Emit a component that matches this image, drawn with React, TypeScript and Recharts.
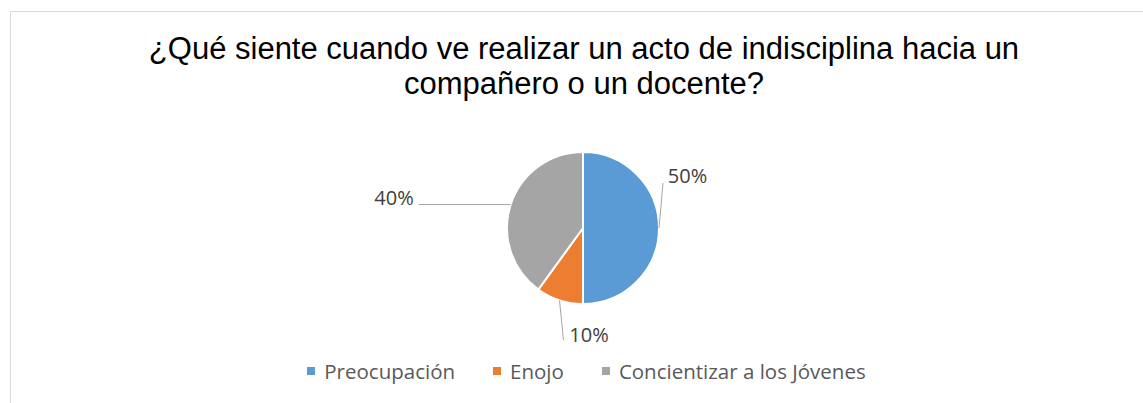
import { PieChart, Pie, Cell, Legend } from "recharts";

const categories = ["Preocupación", "Enojo", "Concientizar a los Jóvenes"];
const values = [50, 10, 40];
const COLORS = ["#5B9BD5", "#ED7D31", "#A5A5A5"];

// label placement relative to the slice edge point (dx, dy), leader end (lx, ly)
const LABEL_POS = [
  { dx: 28.5, dy: -53, lx: 4, ly: -45, anchor: "middle" },
  { dx: 29.5, dy: 34, lx: 4, ly: 40, anchor: "middle" },
  { dx: -97, dy: -7, lx: -92, ly: 0, anchor: "end" },
];

const data = categories.map((name, i) => ({ name, value: values[i] }));

const RADIAN = Math.PI / 180;
const FONT = "'Open Sans', Lato, sans-serif";

function renderLabel(props: any) {
  const { cx, cy, midAngle, outerRadius, percent, index } = props;
  const ex = cx + outerRadius * Math.cos(-midAngle * RADIAN);
  const ey = cy + outerRadius * Math.sin(-midAngle * RADIAN);
  const p = LABEL_POS[index];
  return (
    <g>
      <line
        x1={ex}
        y1={ey}
        x2={ex + p.lx}
        y2={ey + p.ly}
        stroke="#A6A6A6"
        strokeWidth={1}
      />
      <text
        x={ex + p.dx}
        y={ey + p.dy}
        textAnchor={p.anchor as any}
        dominantBaseline="central"
        fill="#404040"
        fontSize={20}
        fontFamily={FONT}
      >
        {`${Math.round(percent * 100)}%`}
      </text>
    </g>
  );
}

function LegendContent() {
  return (
    <div
      style={{
        display: "flex",
        justifyContent: "center",
        alignItems: "center",
        fontFamily: FONT,
        fontSize: 20.5,
        lineHeight: "26px",
        color: "#595959",
        paddingLeft: 30,
      }}
    >
      {categories.map((c, i) => (
        <div
          key={c}
          style={{ display: "flex", alignItems: "center", marginRight: i < 2 ? 38 : 0 }}
        >
          <span
            style={{
              width: 8,
              height: 8,
              background: COLORS[i],
              display: "inline-block",
              marginRight: 9,
            }}
          />
          <span>{c}</span>
        </div>
      ))}
    </div>
  );
}

export default function App() {
  return (
    <div
      style={{
        position: "absolute",
        left: 0,
        top: 0,
        width: 1143,
        height: 403,
        background: "#fff",
        overflow: "hidden",
      }}
    >
      <div
        style={{
          position: "absolute",
          left: 10,
          top: 11,
          width: 1150,
          height: 420,
          border: "1px solid #D9D9D9",
          boxSizing: "border-box",
        }}
      />
      <div
        style={{
          position: "absolute",
          left: 10,
          top: 31,
          width: 1148,
          textAlign: "center",
          fontFamily: "'Liberation Sans', Arial, sans-serif",
          fontSize: 31,
          lineHeight: "35px",
          color: "#000",
        }}
      >
        ¿Qué siente cuando ve realizar un acto de indisciplina hacia un
        <br />
        compañero o un docente?
      </div>
      <div style={{ position: "absolute", left: 0, top: 0 }}>
        <PieChart width={1143} height={403} margin={{ top: 0, right: 0, bottom: 0, left: 0 }}>
          <Pie
            data={data}
            dataKey="value"
            nameKey="name"
            cx={583}
            cy={228}
            outerRadius={76}
            startAngle={90}
            endAngle={-270}
            stroke="#fff"
            strokeWidth={2}
            label={renderLabel}
            labelLine={false}
            isAnimationActive={false}
          >
            {data.map((d, i) => (
              <Cell key={d.name} fill={COLORS[i]} />
            ))}
          </Pie>
          <Legend
            content={<LegendContent />}
            wrapperStyle={{ position: "absolute", top: 358, left: 0, width: 1143 }}
          />
        </PieChart>
      </div>
    </div>
  );
}
